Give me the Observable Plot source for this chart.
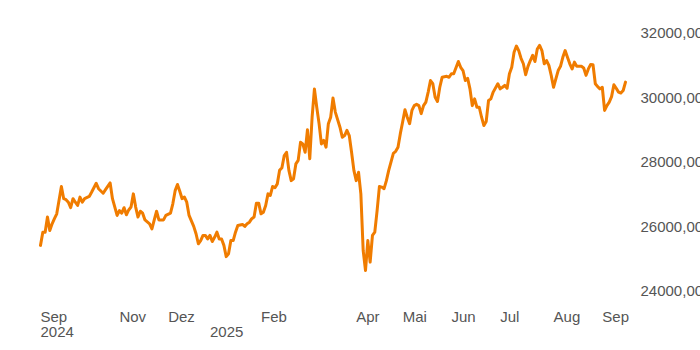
<!DOCTYPE html>
<html><head><meta charset="utf-8">
<script src="https://cdn.jsdelivr.net/npm/d3@7"></script>
<script src="https://cdn.jsdelivr.net/npm/@observablehq/plot@0.6"></script>
<style>
html,body{margin:0;padding:0;background:#fff;}
#chart{width:700px;height:350px;overflow:hidden;}
</style></head><body><div id="chart"></div>
<script>
// trading-session index (0 = first session shown) and closing level
const session = [0,1,2,3,4,5,6,7,9,10,11,12,13,14,15,16,17,18,19,21,22,24,25,27,28,30,31,33,34,35,36,37,38,39,40,41,42,43,44,45,47,48,49,50,51,53,54,56,57,58,59,60,61,62,63,64,66,67,68,69,70,71,72,73,74,75,76,77,78,79,80,81,82,83,84,85,87,88,89,90,91,92,93,94,95,96,97,98,99,100,101,102,103,104,105,106,107,108,109,110,111,112,113,114,115,116,117,118,119,120,121,122,123,124,125,126,127,129,130,131,132,133,134,135,136,137,138,139,140,141,142,143,144,145,146,147,148,149,150,152,153,154,155,156,157,158,159,160,161,162,163,164,165,166,167,168,169,170,171,172,173,175,176,177,178,180,181,182,183,184,185,186,187,188,189,190,191,192,193,194,195,197,198,199,200,201,202,203,204,205,206,207,208,209,210,211,212,213,214,215,216,217,218,219,220,221,222,223,224,225,226,227,228,229,230,231,232,233,234,235,236,237,238,239,240,241,242,243,244,245,246,247,248,249,250,251,252];
const close = [25420,25830,25830,26300,25880,26090,26250,26400,27250,26870,26840,26760,26590,26870,26760,26660,26920,26760,26870,26940,27070,27350,27180,27040,27150,27360,26870,26350,26500,26420,26590,26370,26520,26610,27020,26610,26300,26480,26420,26210,26090,25930,26210,26480,26210,26210,26350,26420,26710,27120,27310,27100,26870,26920,26760,26350,26010,25780,25470,25570,25730,25730,25620,25730,25540,25670,25830,25620,25620,25420,25070,25160,25570,25570,25830,26040,26070,26010,26090,26140,26250,26300,26730,26730,26400,26450,26660,27020,26970,27250,27210,27330,27750,27830,28210,28310,27750,27430,27490,27950,28060,28620,28570,28310,29010,28110,29400,30280,29710,29200,28570,28680,28470,29200,29400,30000,29560,29090,28780,28830,28990,28830,28310,27750,27430,27690,27020,25260,24640,25570,24900,25730,25830,26500,27250,27230,27180,27430,27750,28280,28340,28470,28890,29250,29630,29400,29200,29610,29760,29800,29760,29510,29760,29870,30180,30540,30440,30020,29890,30330,30640,30670,30640,30750,30750,31130,30950,30850,30540,30610,30280,29760,29970,29710,29710,29400,29140,29270,29920,29970,30180,30440,30280,30330,30390,30300,30750,30950,31420,31610,31470,31230,31060,30720,30980,31160,31320,31130,31520,31630,31470,31060,31160,31010,30700,30330,30590,30850,30980,31260,31470,31260,31060,30900,31110,30980,30980,30980,30930,30700,30900,31040,31030,30440,30350,30280,30330,29610,29760,29870,30040,30410,30300,30180,30150,30230,30490];

const yTicks = [24000, 26000, 28000, 30000, 32000];
const monthTicks = [0, 34, 55, 95, 136, 156, 177, 198, 221, 242];
const monthLabels = ["Sep", "Nov", "Dez", "Feb", "Apr", "Mai", "Jun", "Jul", "Aug", "Sep"];
const yearTicks = [0, 73];
const yearLabels = ["2024", "2025"];

const data = session.map((s, i) => ({session: s, close: close[i]}));
const fmt = d => d.toFixed(2).replace(".", ",");

const chart = Plot.plot({
  width: 700,
  height: 350,
  marginLeft: 40,
  marginRight: 75,
  marginTop: 33,
  marginBottom: 29,
  style: {fontFamily: "'Liberation Sans', Arial, sans-serif", fontSize: "15px", color: "#555", background: "#fff"},
  x: {type: "linear", domain: [0, 252], axis: null},
  y: {domain: [24000, 32000], range: [290.6, 33], label: null},
  marks: [
    Plot.line(data, {x: "session", y: "close", stroke: "#f07c00", strokeWidth: 3, strokeLinejoin: "round", strokeLinecap: "round"}),
    Plot.axisY({ticks: yTicks, anchor: "right", label: null, tickSize: 0, tickPadding: 15, textAnchor: "start", tickFormat: fmt, fill: "#555"}),
    Plot.text(monthTicks, {x: d => d, text: (d, i) => monthLabels[i], frameAnchor: "bottom", textAnchor: "start", fill: "#555"}),
    Plot.text(yearTicks, {x: d => d, text: (d, i) => yearLabels[i], frameAnchor: "bottom", textAnchor: "start", dy: 15, fill: "#555"})
  ]
});
document.getElementById("chart").append(chart);
</script>
</body></html>
